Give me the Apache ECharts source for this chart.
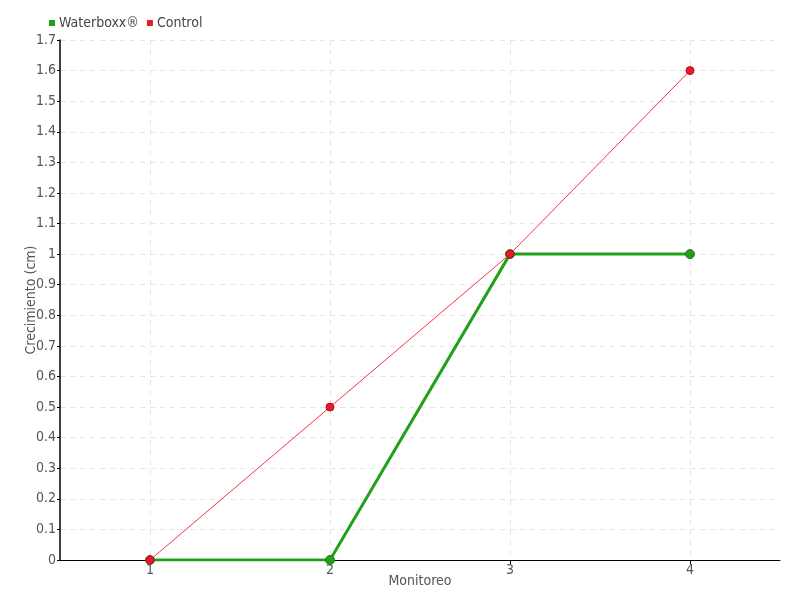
<!DOCTYPE html>
<html>
<head>
<meta charset="utf-8">
<script src="https://cdn.jsdelivr.net/npm/echarts@6/dist/echarts.min.js"></script>
<style>html,body{margin:0;padding:0;background:#fff}#c{width:800px;height:600px}</style>
</head>
<body>
<div id="c"></div>
<script>
const categories = ['1', '2', '3', '4'];
const waterboxx = [0, 0, 1, 1];
const control = [0, 0.5, 1, 1.6];
const seriesNames = ['Waterboxx®', 'Control'];
const FONT = '"Liberation Sans Narrow", "DejaVu Sans Condensed", "Roboto", sans-serif';

const chart = echarts.init(document.getElementById('c'), null, {renderer: 'canvas'});
chart.setOption({
  animation: false,
  backgroundColor: '#ffffff',
  textStyle: {fontFamily: FONT},
  legend: {
    left: 44, top: 11,
    itemWidth: 6, itemHeight: 6, itemGap: 8,
    icon: 'rect',
    itemStyle: {borderWidth: 0},
    textStyle: {fontFamily: FONT, fontSize: 14, color: '#444', padding: [0, 0, 0, -1]},
    data: seriesNames
  },
  grid: {left: 60, right: 20, top: 40, bottom: 40, containLabel: false},
  xAxis: {
    type: 'category',
    data: categories,
    boundaryGap: true,
    name: 'Monitoreo',
    nameLocation: 'middle',
    nameGap: 14,
    nameMoveOverlap: false,
    nameTextStyle: {fontFamily: FONT, fontSize: 14, color: '#555'},
    axisLine: {lineStyle: {color: '#000', width: 1}},
    axisTick: {show: true, alignWithLabel: true, length: 4, lineStyle: {color: '#000'}},
    axisLabel: {fontFamily: FONT, fontSize: 14, color: '#555', margin: 3},
    splitLine: {show: true, alignWithLabel: true, lineStyle: {color: '#e4e4e4', type: [5, 5]}}
  },
  yAxis: {
    type: 'value',
    min: 0, max: 1.7, interval: 0.1,
    name: 'Crecimiento (cm)',
    nameLocation: 'middle',
    nameGap: 22,
    nameMoveOverlap: false,
    nameTextStyle: {fontFamily: FONT, fontSize: 14, color: '#555'},
    axisLine: {show: true, lineStyle: {color: '#000', width: 1.5}},
    axisTick: {show: true, length: 3, lineStyle: {color: '#000'}},
    axisLabel: {fontFamily: FONT, fontSize: 14, color: '#555', margin: 4,
      formatter: v => String(Math.round(v * 10) / 10)},
    splitLine: {show: true, lineStyle: {color: '#e4e4e4', type: [5, 5]}}
  },
  series: [
    {
      name: seriesNames[0], type: 'line', data: waterboxx,
      color: '#22a01a',
      lineStyle: {width: 3, color: '#22a01a'},
      symbol: 'circle', symbolSize: 9,
      itemStyle: {color: '#22a01a', borderColor: '#1a7f14', borderWidth: 1}
    },
    {
      name: seriesNames[1], type: 'line', data: control,
      color: '#e8192c',
      lineStyle: {width: 1, color: '#ff2f45'},
      symbol: 'circle', symbolSize: 8,
      itemStyle: {color: '#e8192c', borderColor: '#b81020', borderWidth: 1}
    }
  ]
});
</script>
</body>
</html>
